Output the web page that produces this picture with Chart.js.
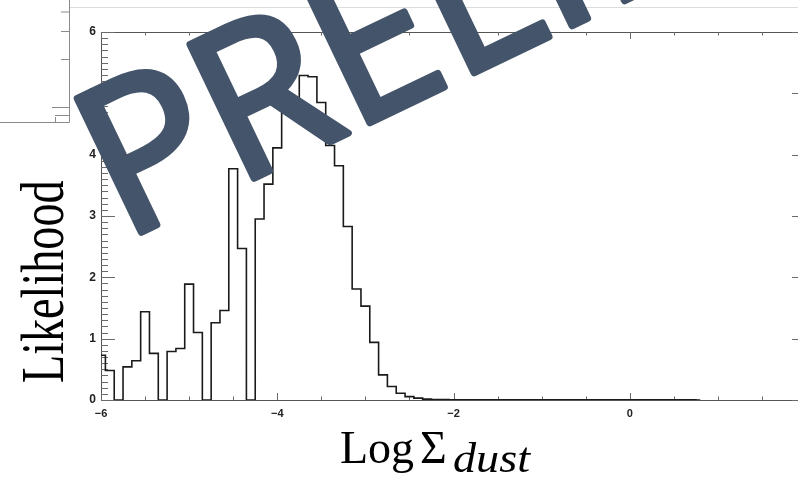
<!DOCTYPE html>
<html>
<head>
<meta charset="utf-8">
<title>Likelihood of Log Σdust</title>
<script src="https://cdn.jsdelivr.net/npm/chart.js@4.4.1/dist/chart.umd.min.js"></script>
<style>
  html, body { margin: 0; padding: 0; background: #fff; overflow: hidden; }
  #wrap { width: 798px; height: 477px; overflow: hidden; }
</style>
</head>
<body>
<div id="wrap"><canvas id="chart" width="830" height="477"></canvas></div>
<script>
// histogram bins: centre of the first bin and bin width (Log Σ_dust)
const firstBin = -6.0;
const binWidth = 0.1;

// likelihood per bin, from -6.0 up to 0.7
const likelihood = [
  0.73, 0.48, 0.00, 0.54, 0.64, 1.44, 0.76, 0.00, 0.79, 0.84,
  1.89, 1.10, 0.00, 1.26, 1.46, 3.77, 2.47, 0.00, 2.95, 3.52,
  4.11, 4.68, 4.82, 5.29, 5.27, 4.85, 4.15, 3.82, 2.83, 1.81,
  1.53, 0.94, 0.41, 0.22, 0.11, 0.055, 0.03, 0.015, 0.009, 0.006,
  0.004, 0.003, 0.003, 0.002, 0.002, 0.002, 0.002, 0.002, 0.002, 0.002,
  0.002, 0.002, 0.002, 0.002, 0.002, 0.002, 0.002, 0.002, 0.002, 0.002,
  0.002, 0.002, 0.002, 0.002, 0.002, 0.002, 0.002, 0.002
];

const xTicks = [-6, -4, -2, 0, 2];
const yTicks = [0, 1, 2, 3, 4, 5, 6];

// one point per bin centre, plus a closing point so the last step ends at its edge
const points = likelihood.map((v, i) => ({ x: +(firstBin + i * binWidth).toFixed(2), y: v }));
points.push({ x: +(firstBin + likelihood.length * binWidth).toFixed(2), y: 0 });

const minus = v => (v < 0 ? '\u2212' + Math.abs(v) : String(v));

// bits of the panel lying underneath this one
const backdrop = {
  id: 'backdrop',
  beforeDraw(chart) {
    const ctx = chart.ctx;
    ctx.save();
    ctx.lineWidth = 1;
    ctx.strokeStyle = '#dcdcdc';
    ctx.beginPath(); ctx.moveTo(70, 7.5); ctx.lineTo(chart.width, 7.5); ctx.stroke();
    ctx.strokeStyle = '#8a8a8a';
    ctx.beginPath();
    ctx.moveTo(69.5, 0); ctx.lineTo(69.5, 122.5); ctx.lineTo(0, 122.5);
    [[12, 61], [31.5, 61], [59.5, 61], [107.5, 52], [115.5, 55]].forEach(([ty, tx]) => {
      ctx.moveTo(tx, ty); ctx.lineTo(69.5, ty);
    });
    ctx.moveTo(55.5, 117); ctx.lineTo(55.5, 122.5);
    ctx.stroke();
    ctx.restore();
  }
};

// box around the plot with inward ticks on all four sides
const frame = {
  id: 'frame',
  beforeDatasetsDraw(chart) {
    const { ctx, chartArea: a, scales: { x, y } } = chart;
    ctx.save();
    ctx.strokeStyle = '#555';
    ctx.lineWidth = 1;
    ctx.strokeRect(Math.round(a.left) + 0.5, Math.round(a.top) + 0.5,
      Math.round(a.right - a.left), Math.round(a.bottom - a.top));
    ctx.strokeStyle = '#6a6a6a';
    ctx.beginPath();
    for (let i = 0; i <= 16; i++) {
      const px = Math.round(x.getPixelForValue(-6 + i * 0.5)) + 0.5;
      const len = i % 4 === 0 ? 7 : 3.5;
      ctx.moveTo(px, a.bottom); ctx.lineTo(px, a.bottom - len);
      ctx.moveTo(px, a.top); ctx.lineTo(px, a.top + len);
    }
    for (let i = 0; i <= 60; i++) {
      const py = Math.round(y.getPixelForValue(i / 10)) + 0.5;
      const len = i % 10 === 0 ? 14 : 7;
      ctx.moveTo(a.left, py); ctx.lineTo(a.left + len, py);
      ctx.moveTo(a.right, py); ctx.lineTo(a.right - len, py);
    }
    ctx.stroke();
    ctx.restore();
  }
};

const axisTitles = {
  id: 'axisTitles',
  afterDraw(chart) {
    const ctx = chart.ctx;
    ctx.save();
    ctx.fillStyle = '#000';
    ctx.textBaseline = 'alphabetic';
    ctx.textAlign = 'left';

    ctx.save();
    ctx.translate(63, 383);
    ctx.rotate(-Math.PI / 2);
    ctx.scale(0.757, 1);
    ctx.font = '61px "Liberation Serif"';
    ctx.fillText('Likelihood', 0, 0);
    ctx.restore();

    ctx.font = '46px "Liberation Serif"';
    ctx.fillText('Log', 340, 463);
    ctx.fillText('Σ', 420, 463);
    ctx.save();
    ctx.translate(453, 472);
    ctx.scale(1.1, 1);
    ctx.font = 'italic 42px "Liberation Serif"';
    ctx.fillText('dust', 0, 0);
    ctx.restore();
    ctx.restore();
  }
};

// heavy rounded stamp across the plot
const watermark = {
  id: 'watermark',
  afterDraw(chart) {
    const ctx = chart.ctx;
    ctx.save();
    ctx.translate(123, 241);
    ctx.rotate(-25.6 * Math.PI / 180);
    ctx.font = '208px "Open Sans"';
    ctx.textBaseline = 'alphabetic';
    ctx.fillStyle = '#44546a';
    ctx.strokeStyle = '#44546a';
    ctx.lineWidth = 7;
    ctx.lineJoin = 'round';
    ctx.lineCap = 'round';
    ctx.fillText('PRELIMINARY', 0, 0);
    ctx.strokeText('PRELIMINARY', 0, 0);
    ctx.restore();
  }
};

function draw() {
  new Chart(document.getElementById('chart'), {
    type: 'line',
    data: {
      datasets: [{
        data: points,
        stepped: 'middle',
        borderColor: '#1a1a1a',
        borderWidth: 1.6,
        pointRadius: 0,
        fill: false
      }]
    },
    options: {
      responsive: false,
      animation: false,
      devicePixelRatio: 1,
      layout: { padding: { top: 32, right: 24, left: 0, bottom: 0 } },
      plugins: { legend: { display: false }, tooltip: { enabled: false } },
      scales: {
        x: {
          type: 'linear',
          min: -6,
          max: 2,
          grid: { display: false, drawTicks: false },
          border: { display: false },
          afterBuildTicks: s => { s.ticks = xTicks.map(v => ({ value: v })); },
          afterFit: s => { s.height = 77; },
          ticks: {
            padding: 7,
            maxRotation: 0,
            autoSkip: false,
            color: '#222',
            font: { family: 'Liberation Sans', size: 11, weight: 'bold' },
            callback: minus
          }
        },
        y: {
          min: 0,
          max: 6,
          grid: { display: false, drawTicks: false },
          border: { display: false },
          afterBuildTicks: s => { s.ticks = yTicks.map(v => ({ value: v })); },
          afterFit: s => { s.width = 101; },
          ticks: {
            padding: 5,
            color: '#222',
            font: { family: 'Liberation Sans', size: 12, weight: 'bold' },
            callback: minus
          }
        }
      }
    },
    plugins: [backdrop, frame, axisTitles, watermark]
  });
}

// canvas text needs the faces loaded before the first paint
Promise.all([
  document.fonts.load('208px "Open Sans"', 'PRELIMINARY'),
  document.fonts.load('61px "Liberation Serif"', 'LikelihoodΣ'),
  document.fonts.load('italic 42px "Liberation Serif"', 'dust'),
  document.fonts.load('bold 12px "Liberation Sans"', '0123456\u2212')
]).catch(() => {}).then(draw);
</script>
</body>
</html>
